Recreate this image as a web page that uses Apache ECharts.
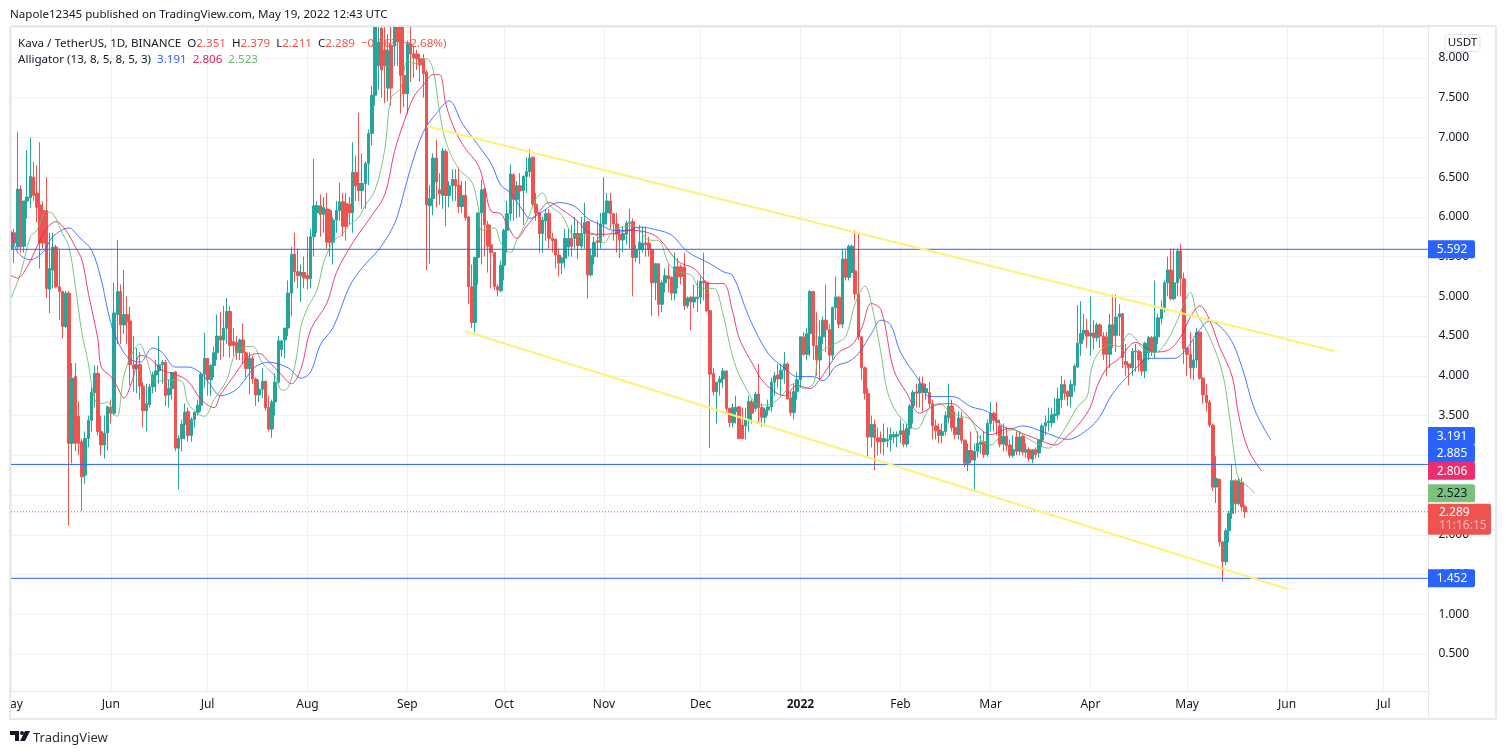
<!DOCTYPE html>
<html><head><meta charset="utf-8">
<style>html,body{margin:0;padding:0;background:#fff}#c{width:1506px;height:754px}</style>
<script src="https://cdn.jsdelivr.net/npm/echarts@6/dist/echarts.min.js"></script>
</head><body><div id="c"></div>
<script>
const firstDay = Date.UTC(2021, 4, 1);
const dayCount = 441;
const monthNames = ['Jan','Feb','Mar','Apr','May','Jun','Jul','Aug','Sep','Oct','Nov','Dec'];
const yTickStep = 0.5;

// rows: open, close, low, high
const candleRows = [
[5.6,5.8,5.5,6.1],[5.80,5.67,5.42,5.85],[5.62,6.35,5.58,7.07],[6.35,5.62,5.55,6.40],[5.63,6.20,5.55,6.2],[6.2,6.25,5.98,6.84],[6.24,6.51,6.11,7.0],[6.5,6.27,6.2,6.69],[6.3,6.12,5.93,6.65],[6.15,5.67,5.35,6.94],
[6.08,5.67,5.6,6.2],[6.08,5.10,4.98,6.5],[5.09,5.35,4.79,5.8],[5.33,5.62,5.1,5.8],[5.62,5.12,5.1,5.65],[5.12,5.06,4.70,5.6],[5.06,4.62,4.47,5.07],[4.62,5.04,4.6,5.07],[5.04,3.15,2.12,5.07],[3.15,3.97,2.9,4.16],
[3.99,3.15,3.05,4.16],[3.49,3.15,3.0,3.68],[3.17,2.73,2.3,3.2],[2.75,3.21,2.64,3.3],[3.21,3.44,3.1,3.5],[3.44,3.79,3.3,3.85],[3.79,4.03,3.6,4.13],[4.03,3.3,3.25,4.13],[3.3,3.13,3.0,3.5],[3.13,3.28,2.96,3.5],
[3.28,3.61,3.06,3.62],[3.6,3.53,3.4,3.7],[3.53,4.79,3.5,5.17],[4.77,5.06,4.4,5.71],[5.06,4.64,4.4,5.15],[4.64,4.77,4.53,5.33],[4.77,4.68,4.4,5.0],[4.69,4.14,3.88,4.87],[4.14,4.09,3.8,4.5],[4.09,4.14,3.78,4.35],
[4.14,3.87,3.7,4.3],[3.87,3.56,3.35,3.92],[3.56,3.65,3.3,3.9],[3.64,3.86,3.6,3.9],[3.86,4.01,3.78,4.05],[4.01,4.06,3.8,4.2],[4.06,4.14,3.9,4.5],[4.14,4.17,3.9,4.2],[4.17,3.75,3.62,4.2],[3.76,3.84,3.6,3.95],
[3.84,4.04,3.7,4.05],[4.05,3.09,3.05,4.06],[3.09,3.21,2.57,3.25],[3.21,3.39,3.05,3.45],[3.39,3.54,3.2,3.65],[3.55,3.25,3.17,3.6],[3.25,3.45,3.17,3.48],[3.45,3.54,3.35,3.55],[3.54,3.63,3.5,3.7],[3.63,4.02,3.55,4.05],
[4.02,4.22,3.85,4.54],[4.22,3.95,3.75,4.22],[3.95,4.13,3.75,4.15],[4.13,4.29,3.98,4.37],[4.29,4.5,4.2,4.77],[4.5,4.45,4.2,4.8],[4.45,4.6,4.24,4.88],[4.6,4.81,4.4,4.98],[4.81,4.38,4.23,4.88],[4.43,4.38,4.25,4.6],
[4.42,4.29,4.2,4.5],[4.29,4.45,4.2,4.47],[4.45,4.29,4.15,4.66],[4.29,4.09,3.98,4.3],[4.09,4.22,3.77,4.3],[4.22,3.96,3.9,4.25],[3.96,3.76,3.62,3.98],[3.76,3.83,3.67,3.95],[3.83,3.93,3.72,4.1],[3.93,3.6,3.56,3.94],
[3.6,3.33,3.3,3.75],[3.33,3.67,3.22,3.7],[3.67,3.92,3.5,4.03],[3.92,4.44,3.9,4.5],[4.33,4.44,4.24,4.45],[4.45,4.6,4.22,4.6],[4.6,5.04,4.5,5.2],[5.04,5.53,4.75,5.62],[5.53,5.31,5.18,5.8],[5.31,5.26,5.1,5.6],
[5.26,5.3,4.93,5.4],[5.3,5.23,5.1,5.5],[5.26,5.22,5.09,5.75],[5.22,5.75,5.1,5.85],[5.75,6.14,5.5,6.73],[6.05,6.14,5.8,6.2],[6.14,6.03,5.75,6.28],[6.03,6.12,5.8,6.25],[6.1,5.68,5.6,6.3],[6.08,5.68,5.5,6.1],
[5.68,5.96,5.4,6.0],[5.96,6.08,5.8,6.2],[6.08,6.19,5.95,6.43],[6.19,5.88,5.75,6.3],[6.17,5.88,5.7,6.3],[6.16,6.05,5.9,6.25],[6.05,6.56,5.8,6.94],[6.56,6.39,6.2,6.77],[6.42,6.33,6.2,7.31],[6.33,6.42,6.1,6.8],
[6.42,6.67,6.1,6.7],[6.67,7.05,6.4,7.1],[7.05,7.53,6.9,7.65],[7.53,8.39,7.4,8.39],[7.9,8.2,7.6,8.39],[8.37,7.85,7.5,8.39],[8.1,7.9,7.43,8.39],[7.62,8.09,7.45,8.3],[8.16,7.62,7.4,8.39],[8.16,8.39,7.9,8.39],
[8.39,8.2,7.9,8.39],[8.39,7.78,7.3,8.39],[7.78,7.55,7.38,8.39],[7.55,8.18,7.3,8.22],[8.18,8.05,7.7,8.39],[8.05,8.0,7.75,8.15],[8.05,7.99,7.85,8.1],[7.99,7.91,7.7,8.05],[7.99,7.8,7.5,8.05],[7.82,6.15,5.33,7.85],
[6.14,6.23,5.41,6.4],[6.23,6.74,6.02,6.8],[6.74,6.44,6.12,6.97],[6.34,6.29,6.15,6.55],[6.27,6.83,6.1,6.87],[6.82,6.27,5.88,6.85],[6.27,6.39,6.12,6.45],[6.39,6.47,6.2,6.6],[6.47,6.39,6.2,6.6],[6.4,6.13,6.05,6.62],
[6.13,6.27,6.05,6.45],[6.27,5.99,5.95,6.45],[6.0,5.12,4.9,6.0],[5.12,4.67,4.6,5.4],[4.67,5.49,4.55,5.49],[5.49,6.05,5.15,6.05],[6.05,6.34,5.4,6.47],[6.35,5.9,5.5,6.36],[5.9,5.63,5.3,5.95],[5.65,5.55,5.1,5.9],
[5.55,5.12,5.08,5.55],[5.12,5.08,5.0,5.15],[5.07,5.39,5.05,5.45],[5.39,5.83,5.2,5.85],[5.83,6.04,5.55,6.2],[6.04,6.54,5.95,6.66],[6.53,6.22,5.95,6.55],[6.22,6.39,5.98,6.45],[6.39,6.33,6.0,6.55],[6.33,6.51,5.9,6.52],
[6.51,6.57,6.3,6.75],[6.57,6.74,6.5,6.85],[6.75,6.16,6.12,6.76],[6.16,6.05,5.95,6.3],[6.05,5.79,5.55,6.05],[5.79,5.96,5.55,6.0],[5.95,6.04,5.7,6.1],[6.04,5.73,5.6,6.1],[5.73,5.7,5.55,5.8],[5.72,5.52,5.35,5.72],
[5.52,5.42,5.25,5.6],[5.42,5.48,5.28,5.5],[5.48,5.73,5.35,5.85],[5.62,5.73,5.5,5.85],[5.73,5.63,5.5,5.9],[5.73,5.79,5.6,6.0],[5.79,5.64,5.47,5.95],[5.63,5.79,5.6,6.0],[5.79,5.93,5.6,6.18],[5.94,5.27,4.97,5.95],
[5.27,5.51,5.25,5.6],[5.5,5.68,5.4,5.75],[5.7,5.68,5.49,5.95],[5.68,5.91,5.6,6.05],[5.91,6.05,5.75,6.5],[6.05,6.2,5.9,6.3],[6.2,6.04,5.85,6.3],[6.04,5.91,5.7,6.05],[5.91,5.78,5.55,6.05],[5.78,5.71,5.48,5.85],
[5.71,5.79,5.55,5.88],[5.78,5.92,5.65,5.95],[5.92,5.93,5.6,6.1],[5.94,5.49,5.0,5.98],[5.49,5.59,5.43,5.65],[5.59,5.68,5.41,5.9],[5.59,5.67,5.55,5.88],[5.67,5.65,5.5,5.88],[5.67,5.59,5.5,5.75],[5.59,5.17,4.75,5.6],
[5.17,5.41,4.95,5.42],[5.41,4.9,4.75,5.42],[4.9,5.17,4.8,5.2],[5.17,5.26,5.05,5.35],[5.26,5.22,5.05,5.4],[5.24,5.04,4.95,5.25],[5.04,5.37,4.95,5.55],[5.37,5.25,5.1,5.48],[5.37,5.25,5.15,5.4],[5.37,4.88,4.83,5.55],
[4.88,4.98,4.85,5.0],[4.99,4.93,4.57,5.0],[4.93,4.99,4.85,5.15],[4.97,4.99,4.8,5.2],[4.99,5.19,4.9,5.25],[5.19,5.17,4.95,5.55],[5.17,4.82,4.8,5.18],[4.82,4.02,3.09,4.83],[4.03,3.8,3.75,4.1],[3.8,3.92,3.4,3.92],
[3.92,3.96,3.75,4.0],[3.96,4.06,3.85,4.1],[4.06,3.59,3.55,4.07],[3.59,3.41,3.35,3.6],[3.41,3.6,3.35,3.65],[3.55,3.6,3.4,3.75],[3.61,3.21,3.2,3.62],[3.38,3.21,3.2,3.6],[3.37,3.45,3.2,3.6],[3.45,3.68,3.3,3.75],
[3.67,3.53,3.4,3.7],[3.59,3.77,3.55,3.8],[3.77,3.6,3.4,4.15],[3.6,3.48,3.36,3.65],[3.48,3.57,3.4,3.6],[3.57,3.61,3.5,3.7],[3.61,3.92,3.55,3.98],[3.92,4.0,3.75,4.05],[4.01,3.96,3.85,4.15],[3.96,4.07,3.75,4.15],
[4.07,4.15,3.9,4.3],[4.15,3.71,3.7,4.17],[3.72,3.54,3.5,3.8],[3.54,3.8,3.45,3.9],[3.8,3.95,3.7,4.05],[3.95,4.49,3.85,4.5],[4.49,4.27,4.25,4.55],[4.27,4.53,4.2,4.6],[4.53,5.06,4.25,5.08],[5.06,4.38,4.2,5.07],
[4.38,4.2,4.0,4.8],[4.2,4.49,3.95,4.7],[4.49,4.7,4.4,4.75],[4.7,4.58,4.3,5.15],[4.58,4.26,4.0,4.65],[4.26,4.86,4.2,4.87],[4.86,4.99,4.7,5.25],[4.99,4.65,4.6,5.0],[4.65,5.47,4.6,5.6],[5.47,5.24,5.2,5.6],
[5.24,5.63,5.2,5.65],[5.3,5.63,5.3,5.65],[5.32,5.03,4.95,5.83],[5.03,4.49,4.45,5.8],[4.49,4.1,3.95,4.5],[4.1,3.78,3.7,4.12],[3.78,3.23,2.98,3.85],[3.23,3.39,3.1,3.5],[3.39,3.22,2.81,3.45],[3.22,3.17,3.0,3.35],
[3.21,3.17,3.02,3.3],[3.17,3.21,3.0,3.4],[3.18,3.2,3.1,3.35],[3.2,3.26,3.05,3.35],[3.23,3.26,3.15,3.3],[3.24,3.26,3.1,3.3],[3.26,3.31,3.15,3.45],[3.31,3.14,3.1,3.4],[3.14,3.34,3.1,3.4],[3.34,3.62,3.25,3.65],
[3.62,3.79,3.4,3.82],[3.8,3.78,3.6,3.9],[3.78,3.9,3.6,3.99],[3.9,3.79,3.55,3.99],[3.79,3.84,3.7,3.9],[3.79,3.65,3.6,3.92],[3.65,3.37,3.2,3.7],[3.37,3.31,3.2,3.45],[3.32,3.25,3.15,3.4],[3.25,3.3,3.15,3.4],
[3.3,3.5,3.25,3.55],[3.47,3.62,3.4,3.9],[3.62,3.35,3.3,3.7],[3.35,3.26,3.2,3.55],[3.26,3.47,3.2,3.55],[3.47,3.19,3.15,3.55],[3.19,2.9,2.85,3.2],[2.9,3.06,2.8,3.15],[3.06,2.94,2.9,3.3],[2.94,3.05,2.57,3.15],
[3.05,3.15,2.97,3.3],[3.14,3.16,3.02,3.25],[3.17,3.01,2.97,3.3],[3.01,3.4,2.98,3.45],[3.4,3.53,3.3,3.67],[3.53,3.44,3.3,3.55],[3.44,3.41,3.25,3.67],[3.37,3.14,3.1,3.45],[3.14,3.24,3.05,3.4],[3.24,3.12,3.05,3.36],
[3.13,3.0,2.97,3.2],[3.0,3.07,2.97,3.25],[3.23,3.05,3.0,3.3],[3.05,3.23,3.0,3.3],[3.24,3.04,3.0,3.25],[3.04,3.07,2.97,3.15],[3.07,2.96,2.92,3.1],[2.95,3.07,2.9,3.08],[3.07,3.01,2.96,3.1],[3.03,3.19,2.97,3.2],
[3.19,3.37,3.1,3.4],[3.37,3.41,3.25,3.5],[3.41,3.43,3.3,3.6],[3.41,3.51,3.35,3.6],[3.5,3.52,3.4,3.72],[3.51,3.71,3.45,3.85],[3.70,3.89,3.6,4.0],[3.89,3.78,3.7,3.95],[3.8,3.74,3.62,3.82],[3.74,3.89,3.6,3.95],
[3.88,4.12,3.8,4.15],[4.11,4.41,4.1,4.89],[4.41,4.53,4.25,4.94],[4.53,4.57,4.45,4.78],[4.57,4.5,4.35,4.72],[4.5,4.54,4.25,5.0],[4.54,4.48,4.33,4.7],[4.48,4.64,4.43,4.67],[4.64,4.5,4.35,4.66],[4.5,4.27,4.2,4.55],
[4.49,4.27,4.0,4.55],[4.27,4.64,4.1,4.78],[4.64,4.51,4.35,5.02],[4.51,4.74,4.3,5.02],[4.74,4.78,4.5,4.9],[4.78,4.23,4.1,4.79],[4.18,4.14,4.0,4.4],[4.15,4.1,3.88,4.15],[4.1,4.31,4.0,4.35],[4.3,4.31,4.05,4.4],
[4.31,4.2,4.05,4.33],[4.2,4.06,4.0,4.3],[4.06,4.41,3.97,4.43],[4.29,4.48,4.2,4.5],[4.48,4.31,4.25,4.5],[4.31,4.49,4.22,5.2],[4.49,4.73,4.4,4.78],[4.72,4.86,4.65,4.95],[4.86,5.17,4.8,5.2],[5.17,5.33,5.0,5.5],
[5.33,4.97,4.95,5.6],[4.97,5.17,4.95,5.6],[5.17,5.57,5.0,5.6],[5.57,5.22,5.0,5.66],[5.22,4.34,4.15,5.3],[4.35,4.27,4.0,4.35],[4.27,4.1,3.96,4.55],[4.1,4.2,3.95,4.45],[4.2,4.55,4.1,4.6],[4.55,3.97,3.95,4.55],
[3.97,3.76,3.65,3.98],[3.76,3.66,3.55,3.9],[3.67,3.38,3.35,3.7],[3.38,2.6,2.55,3.4],[2.6,2.71,2.4,2.99],[2.7,1.91,1.85,2.7],[1.91,1.66,1.41,1.92],[1.66,2.05,1.62,2.08],[2.05,2.27,1.9,2.3],[2.27,2.68,2.2,2.89],
[2.68,2.39,2.27,2.7],[2.39,2.68,2.37,2.72],[2.66,2.35,2.3,2.72],[2.351,2.289,2.211,2.379]
];

// [day index, price]
const jawPoints = [[0,5.83],[2,5.56],[6,5.46],[10,5.56],[13,5.75],[18,5.86],[21,5.75],[25,5.58],[28,5.21],[30,4.83],[32,4.54],[36,4.24],[40,4.17],[44,4.35],[47,4.29],[51,4.11],[55,4.11],[59,4.03],[62,3.88],[65,3.75],[70,3.83],[74,4.03],[76,4.12],[80,4.17],[86,4.10],[90,3.97],[93,4.05],[96,4.39],[100,4.61],[105,5.12],[109,5.36],[114,5.58],[118,5.83],[120,6.02],[124,6.61],[128,7.07],[132,7.3],[136,7.46],[140,7.18],[145,6.9],[149,6.67],[152,6.4],[155,6.3],[159,6.07],[161,5.98],[165,6.07],[170,6.18],[175,6.13],[179,5.98],[183,5.9],[187,5.83],[191,5.83],[195,5.87],[200,5.84],[205,5.77],[210,5.56],[217,5.41],[221,5.31],[224,5.26],[229,4.74],[235,4.28],[240,4.1],[244,3.99],[249,3.99],[252,3.94],[256,4.12],[260,4.18],[263,4.28],[267,4.53],[270,4.7],[273,4.64],[276,4.3],[282,3.93],[285,3.74],[292,3.74],[298,3.61],[303,3.55],[310,3.33],[314,3.37],[320,3.3],[328,3.2],[334,3.32],[338,3.49],[341,3.72],[345,3.93],[349,4.09],[353,4.22],[361,4.22],[365,4.35],[368,4.53],[372,4.69],[378,4.49],[382,4.11],[386,3.57],[391,3.191]];
const teethPoints = [[0,5.26],[2,5.23],[5,5.37],[8,5.62],[11,5.85],[14,5.94],[17,5.83],[20,5.62],[22,5.46],[24,5.04],[27,4.45],[28,4.11],[31,3.99],[33,3.86],[35,3.72],[38,3.99],[40,4.26],[43,4.22],[47,4.07],[51,4.02],[55,3.93],[59,3.7],[63,3.6],[65,3.76],[69,3.99],[74,4.25],[77,4.28],[80,4.18],[84,4.01],[87,3.9],[90,4.09],[93,4.58],[98,4.91],[101,5.3],[106,5.67],[112,6.02],[116,6.28],[119,6.82],[122,7.2],[125,7.51],[128,7.66],[131,7.79],[133,7.79],[135,7.41],[138,7.07],[141,6.86],[145,6.65],[147,6.38],[149,6.07],[152,6.04],[154,5.9],[157,5.73],[160,5.88],[164,6.07],[167,6.18],[171,6.09],[176,5.94],[179,5.81],[183,5.78],[187,5.79],[192,5.83],[197,5.81],[201,5.73],[207,5.44],[212,5.35],[217,5.16],[221,5.16],[224,4.8],[226,4.47],[230,4.16],[233,3.95],[237,3.8],[240,3.75],[244,3.88],[248,3.84],[250,3.9],[253,4.07],[257,4.3],[261,4.39],[264,4.6],[267,4.91],[270,4.83],[274,4.07],[278,3.78],[282,3.53],[287,3.63],[292,3.65],[296,3.53],[300,3.36],[304,3.26],[310,3.34],[313,3.29],[318,3.21],[324,3.13],[328,3.25],[332,3.42],[335,3.61],[337,3.86],[340,4.09],[344,4.22],[349,4.42],[355,4.3],[359,4.32],[363,4.49],[366,4.74],[369,4.88],[372,4.7],[375,4.37],[379,3.99],[381,3.5],[384,3.07],[388,2.806]];
const lipsPoints = [[0,4.98],[3,5.29],[6,5.75],[8,5.83],[11,6.06],[13,6.04],[16,5.79],[18,5.62],[20,5.12],[22,4.54],[24,4.16],[26,3.7],[28,3.65],[30,3.67],[32,3.52],[33,3.49],[35,3.99],[38,4.32],[40,4.4],[42,4.22],[45,3.93],[49,3.95],[53,3.93],[55,3.65],[60,3.49],[63,3.7],[67,3.95],[69,4.22],[72,4.36],[75,4.37],[78,4.16],[82,3.99],[84,3.82],[85,3.82],[88,4.11],[90,4.62],[92,4.85],[95,5.08],[97,5.42],[100,5.69],[103,5.79],[105,5.9],[108,6.0],[110,6.15],[113,6.34],[116,6.85],[118,7.5],[121,7.62],[123,7.95],[126,7.93],[129,7.99],[131,7.85],[133,7.32],[135,6.94],[139,6.6],[143,6.44],[145,6.12],[146,5.83],[150,5.86],[152,5.67],[155,5.55],[157,5.71],[160,5.94],[163,6.23],[165,6.3],[167,6.15],[171,6.02],[174,5.79],[177,5.75],[181,5.78],[184,5.67],[187,5.83],[193,5.89],[198,5.71],[201,5.7],[204,5.42],[207,5.31],[211,5.27],[214,5.1],[218,5.1],[221,4.77],[223,4.4],[225,4.11],[229,3.78],[232,3.63],[236,3.65],[239,3.74],[243,3.9],[246,3.84],[249,3.9],[251,4.28],[256,4.41],[259,4.49],[262,4.91],[265,5.13],[267,4.91],[270,4.28],[272,3.8],[275,3.53],[279,3.36],[281,3.33],[285,3.59],[288,3.65],[292,3.53],[295,3.49],[298,3.44],[301,3.19],[304,3.13],[308,3.28],[311,3.32],[316,3.2],[322,3.09],[325,3.21],[328,3.4],[331,3.61],[334,3.74],[335,4.03],[337,4.26],[341,4.39],[344,4.37],[347,4.53],[349,4.47],[351,4.35],[355,4.29],[358,4.39],[362,4.7],[364,4.91],[366,5.05],[368,4.79],[372,4.49],[376,4.03],[378,3.53],[380,2.9],[381,2.71],[384,2.6],[386,2.523]];
const upperTrend = [[129,7.14],[411,4.31]];
const lowerTrend = [[141,4.56],[396,1.32]];
const levelLines = [5.592, 2.885, 1.452];
const lastPrice = 2.289;

const GREEN='#26a69a', RED='#ef5350', BLUE='#2962ff', PINK='#e91e63', LIME='#66bb6a', INK='#131722', FRAME='#e6e8ee', GRID='#f0f1f4';
const FONT='"Noto Sans", "Open Sans", sans-serif';
const UI='11.6px '+FONT;

const categories = [];
for (let i=0;i<dayCount;i++){ categories.push(new Date(firstDay+i*86400000)); }
const isMonthStart = i => categories[i].getUTCDate()===1;

const hLine = (name,value,color,type) => ({
  name,type:'line',data:[[0,value],[dayCount-1,value]],showSymbol:false,silent:true,z:5,
  lineStyle:{color,width:1,type:type||'solid'},animation:false
});
const curve = (name,data,color,op) => ({
  name,type:'line',data,showSymbol:false,smooth:0.35,silent:true,z:4,
  lineStyle:{color,width:1,opacity:op},animation:false
});
const trend = (name,data) => ({
  name,type:'line',data,showSymbol:false,silent:true,z:6,
  lineStyle:{color:'#fff176',width:2},animation:false
});

const chart = echarts.init(document.getElementById('c'),null,{renderer:'canvas'});
chart.setOption({
  animation:false,
  textStyle:{fontFamily:FONT},
  grid:{left:9.39,right:75.6,top:27,bottom:60.3,containLabel:false,outerBoundsMode:'none'},
  xAxis:{type:'category',data:categories.map((d,i)=>i),boundaryGap:true,
    axisLine:{show:false},axisTick:{show:false,alignWithLabel:true},
    splitLine:{show:true,alignWithLabel:true,interval:i=>isMonthStart(i),lineStyle:{color:GRID,width:1}},
    axisLabel:{interval:i=>isMonthStart(i),margin:5,color:INK,fontSize:12,fontFamily:FONT,hideOverlap:false,
      formatter:v=>{const d=categories[+v];return d.getUTCMonth()===0?'{b|'+d.getUTCFullYear()+'}':monthNames[d.getUTCMonth()];},
      rich:{b:{fontWeight:'bold',fontSize:12,color:INK,fontFamily:FONT}}}
  },
  yAxis:{type:'value',position:'right',min:0,max:8.389,interval:yTickStep,
    axisLine:{show:false},axisTick:{show:false},
    splitLine:{show:true,lineStyle:{color:GRID,width:1}},
    axisLabel:{showMinLabel:false,showMaxLabel:false,margin:8,color:INK,fontSize:12,fontFamily:FONT,padding:[4,0,0,0],formatter:v=>v.toFixed(3)}
  },
  series:[
    {name:'KAVA',type:'candlestick',data:candleRows,barWidth:3,z:3,silent:true,
      itemStyle:{color:GREEN,color0:RED,borderColor:GREEN,borderColor0:RED,borderWidth:1}},
    curve('Jaw',jawPoints,BLUE,0.85),
    curve('Teeth',teethPoints,PINK,0.85),
    curve('Lips',lipsPoints,LIME,0.85),
    trend('Upper channel',upperTrend),
    trend('Lower channel',lowerTrend),
    hLine('Level 1',levelLines[0],BLUE),
    hLine('Level 2',levelLines[1],BLUE),
    hLine('Level 3',levelLines[2],BLUE),
    hLine('Last',lastPrice,RED,[1,2])
  ]
});

// price tags: value, text, background, colour, vertical nudge from the price
const tags = [
  [5.592,'5.592',BLUE,'#fff',0],
  [3.191,'3.191',BLUE,'#fff',-4],
  [2.885,'2.885',BLUE,'#fff',-11],
  [2.806,'2.806','#ec2d70','#fff',0],
  [2.523,'2.523','#7bc27d',INK,0],
  [1.452,'1.452',BLUE,'#fff',0]
];
const Y = v => chart.convertToPixel({yAxisIndex:0},v);
const tagEls = tags.map(t=>{
  const y=Y(t[0])+t[4];
  return {type:'group',z:20,children:[
    {type:'rect',z:20,shape:{x:1428,y:y-9,width:47,height:18,r:[0,2,2,0]},style:{fill:t[2]}},
    {type:'text',z:21,x:1452,y:y+0.5,style:{text:t[1],fill:t[3],font:'12px '+FONT,textAlign:'center',textVerticalAlign:'middle'}}
  ]};
});
const yLast = Y(lastPrice);
const txt=(x,y,text,fill,extra)=>({type:'text',z:0,x,y,style:Object.assign({text,fill,font:UI,textVerticalAlign:'middle'},extra||{})});
const legendRich = {
  l:{fill:INK,font:UI},r:{fill:RED,font:UI},
  j:{fill:BLUE,font:UI},t:{fill:PINK,font:UI},g:{fill:'#66bb6a',font:UI}
};
const rt=(x,y,text)=>({type:'text',z:0,x,y,style:{text,rich:legendRich,textVerticalAlign:'middle',font:UI}});
chart.setOption({graphic:[
  // frame, axis separators
  {type:'rect',z:30,silent:true,shape:{x:0,y:691,width:9,height:30},style:{fill:'#fff'}},
  {type:'rect',z:1,silent:true,shape:{x:10,y:691.5,width:1418,height:3},style:{fill:'#fff'}},
  {type:'rect',z:31,silent:true,shape:{x:0,y:21,width:9,height:700},style:{fill:'#fff'}},
  {type:'rect',z:19,silent:true,shape:{x:1429,y:27,width:2,height:665},style:{fill:'#fff'}},
  {type:'line',z:30,silent:true,shape:{x1:10,y1:27,x2:10,y2:719},style:{stroke:FRAME,lineWidth:2}},
  {type:'line',z:30,silent:true,shape:{x1:10,y1:26,x2:1496,y2:26},style:{stroke:FRAME,lineWidth:2}},
  {type:'line',z:30,silent:true,shape:{x1:1496,y1:26,x2:1496,y2:719},style:{stroke:FRAME,lineWidth:2}},
  {type:'line',z:30,silent:true,shape:{x1:10,y1:719,x2:1496,y2:719},style:{stroke:FRAME,lineWidth:2}},
  {type:'line',z:19,silent:true,shape:{x1:11,y1:691.5,x2:1428,y2:691.5},style:{stroke:FRAME,lineWidth:1}},
  {type:'line',z:19,silent:true,shape:{x1:1428.5,y1:27,x2:1428.5,y2:718},style:{stroke:FRAME,lineWidth:1}},
  // header and legend
  txt(10,15,'Napole12345 published on TradingView.com, May 19, 2022 12:43 UTC',INK),
  rt(18,44,'{l|Kava / TetherUS, 1D, BINANCE  O}{r|2.351}{l|  H}{r|2.379}{l|  L}{r|2.211}{l|  C}{r|2.289}{r|  −0.063 (−2.68%)}'),
  rt(18,60,'{l|Alligator (13, 8, 5, 8, 5, 3)  }{j|3.191}{l|  }{t|2.806}{l|  }{g|2.523}'),
  // currency button
  {type:'rect',z:20,shape:{x:1445,y:34.5,width:35,height:17,r:3},style:{fill:'#fff',stroke:'#c8cad2',lineWidth:1,lineDash:[1,1]}},
  {type:'text',z:21,x:1462.5,y:43,style:{text:'USDT',fill:INK,font:UI,textAlign:'center',textVerticalAlign:'middle'}},
  // last price tag
  {type:'rect',z:22,shape:{x:1428,y:yLast-8,width:63,height:31,r:[0,2,2,0]},style:{fill:RED}},
  {type:'text',z:23,x:1439,y:yLast+0.5,style:{text:'2.289',fill:'#fff',font:'12px '+FONT,textVerticalAlign:'middle'}},
  {type:'text',z:23,x:1439,y:yLast+14,style:{text:'11:16:15',fill:'#f9b9bd',font:'12px '+FONT,textVerticalAlign:'middle'}},
  // logo and footer
  {type:'polygon',z:5,shape:{points:[[10,731],[19,731],[19,741],[15,741],[15,735],[10,735]]},style:{fill:INK}},
  {type:'circle',z:5,shape:{cx:22,cy:733,r:2},style:{fill:INK}},
  {type:'polygon',z:5,shape:{points:[[25,731],[30,731],[25,741],[20,741]]},style:{fill:INK}},
  {type:'text',z:5,x:33,y:738,style:{text:'TradingView',fill:'#2a2e39',font:'13px '+FONT,textVerticalAlign:'middle'}}
].concat(tagEls)});
</script></body></html>
